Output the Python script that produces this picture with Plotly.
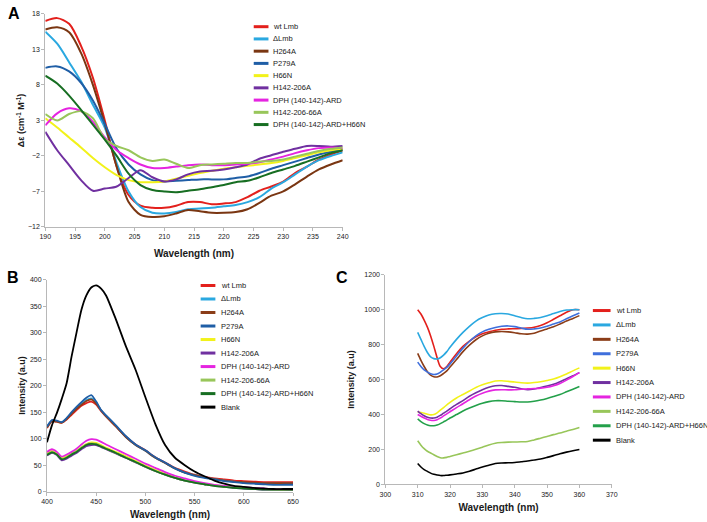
import plotly.graph_objects as go

W, H = 707, 522

names_A = ["wt Lmb", "ΔLmb", "H264A", "P279A", "H66N", "H142-206A",
           "DPH (140-142)-ARD", "H142-206-66A", "DPH (140-142)-ARD+H66N"]
names_BC = names_A + ["Blank"]

colors_A = ["#e3201c", "#2aa8e0", "#7a3612", "#1f5ea6", "#f2f21a", "#7030a0",
            "#e524e0", "#98c65a", "#176e22"]
colors_B = ["#e3201c", "#2aa8e0", "#8b3d18", "#1f5ea6", "#f2f21a", "#7030a0",
            "#e524e0", "#98c65a", "#176e22", "#000000"]
colors_C = ["#e3201c", "#2aa8e0", "#8b3d18", "#3f6fdc", "#f2f21a", "#7030a0",
            "#e524e0", "#98c65a", "#23a04a", "#000000"]

# ---------------- Panel A: CD spectra ----------------
x_A = [190, 192, 194, 196, 198, 200, 202, 204, 206, 208, 210, 212, 214, 216, 218,
       220, 222, 224, 226, 228, 230, 232, 234, 236, 238, 240]
A_wt = [17.0, 17.4, 16.6, 13.5, 9.0, 3.0, -3.5, -7.5, -9.0, -9.3, -9.3, -9.0, -8.5, -8.5, -8.8,
        -8.7, -8.5, -7.8, -6.9, -6.3, -5.6, -4.4, -3.5, -2.5, -1.8, -1.2]
A_dLmb = [15.5, 13.8, 11.2, 8.5, 5.2, 2.0, -3.0, -7.0, -9.2, -10.0, -10.1, -9.9, -9.5, -9.4, -9.3,
          -9.1, -8.9, -8.5, -7.8, -6.6, -5.7, -4.6, -3.5, -2.6, -2.0, -1.5]
A_H264A = [15.8, 16.1, 15.4, 12.5, 8.0, 2.5, -3.5, -8.5, -10.3, -10.6, -10.5, -10.1, -9.6, -9.8, -10.0,
           -10.0, -9.9, -9.5, -8.6, -7.6, -7.0, -6.0, -4.9, -3.9, -3.2, -2.6]
A_P279A = [10.4, 10.6, 9.9, 8.3, 5.8, 2.5, -1.0, -3.2, -4.6, -5.4, -5.6, -5.5, -5.4, -5.3, -5.3,
           -5.3, -5.1, -4.9, -4.4, -3.8, -3.3, -2.8, -2.3, -1.8, -1.4, -1.1]
A_H66N = [3.3, 2.0, 0.6, -0.8, -2.3, -3.6, -4.7, -5.4, -5.7, -5.7, -5.6, -5.2, -4.8, -4.4, -4.1,
          -3.8, -3.6, -3.4, -3.2, -3.0, -2.7, -2.3, -1.9, -1.5, -1.2, -1.0]
A_H142 = [1.4, -1.2, -3.3, -5.4, -6.9, -6.6, -6.3, -5.1, -4.0, -5.0, -5.6, -5.3, -4.6, -4.2, -4.1,
          -3.9, -3.6, -3.2, -2.4, -1.9, -1.4, -1.0, -0.6, -0.6, -0.7, -0.6]
A_DPH = [2.3, 4.0, 4.7, 4.3, 2.8, 0.6, -1.2, -2.3, -3.2, -3.7, -3.7, -3.5, -3.3, -3.2, -3.3,
         -3.3, -3.2, -3.1, -2.9, -2.5, -2.1, -1.6, -1.2, -0.9, -0.8, -0.9]
A_H142_66 = [3.9, 3.0, 3.9, 4.3, 3.3, 0.4, -0.6, -1.2, -2.2, -2.7, -2.5, -3.1, -3.7, -3.3, -3.2,
             -3.1, -3.0, -3.0, -2.8, -2.7, -2.5, -2.1, -1.7, -1.3, -1.0, -0.8]
A_DPH_H66N = [9.3, 8.2, 6.5, 4.5, 2.4, 0.3, -2.0, -4.5, -6.1, -6.8, -7.0, -7.1, -6.9, -6.7, -6.4,
              -6.1, -5.7, -5.5, -5.0, -4.4, -3.9, -3.4, -2.8, -2.2, -1.6, -1.2]
series_A = [A_wt, A_dLmb, A_H264A, A_P279A, A_H66N, A_H142, A_DPH, A_H142_66, A_DPH_H66N]
ticks_A_x = [190, 195, 200, 205, 210, 215, 220, 225, 230, 235, 240]
ticks_A_y = [-12, -7, -2, 3, 8, 13, 18]

# ---------------- Panel B: fluorescence 400-650 ----------------
x_B = [400, 405, 410, 415, 420, 425, 430, 435, 440, 445, 450, 455, 460, 470, 480, 490,
       500, 510, 520, 530, 540, 550, 560, 570, 580, 590, 600, 610, 620, 630, 640, 650]
B_wt = [120, 133, 132, 130, 136, 145, 154, 162, 167, 170, 164, 152, 142, 123, 104, 89,
        78, 65, 55, 45, 38, 32, 28, 25, 23, 21, 20, 19, 18, 18, 18, 18]
B_dLmb = [122, 134, 133, 131, 138, 148, 158, 166, 173, 176, 168, 153, 143, 124, 104, 88,
          77, 64, 54, 44, 36, 31, 27, 24, 21, 19, 17, 16, 15, 15, 15, 15]
B_H264A = [121, 133, 132, 130, 137, 147, 156, 164, 171, 174, 166, 153, 142, 123, 103, 88,
           77, 64, 54, 44, 36, 31, 27, 24, 21, 19, 18, 17, 16, 16, 16, 16]
B_P279A = [123, 135, 134, 131, 139, 150, 160, 169, 177, 182, 170, 154, 144, 125, 105, 89,
           78, 65, 55, 44, 36, 30, 26, 23, 20, 18, 16, 15, 14, 13, 13, 13]
B_H66N = [72, 77, 72, 64, 67, 72, 77, 84, 90, 93, 92, 88, 83, 75, 67, 58,
          49, 41, 34, 27, 22, 18, 15, 12, 10, 8, 7, 6, 5, 5, 4, 4]
B_H142 = [68, 73, 69, 59, 62, 68, 73, 80, 86, 88, 88, 84, 80, 72, 64, 55,
          47, 39, 32, 26, 21, 17, 14, 11, 9, 7, 6, 5, 4, 4, 4, 3]
B_DPH = [75, 80, 75, 66, 70, 75, 81, 89, 96, 99, 98, 94, 89, 80, 71, 62,
         53, 45, 37, 30, 25, 20, 16, 13, 11, 9, 8, 7, 6, 5, 5, 5]
B_H142_66 = [70, 75, 70, 62, 65, 71, 76, 83, 89, 91, 90, 86, 81, 73, 65, 56,
             47, 39, 32, 26, 21, 17, 14, 11, 9, 8, 7, 6, 5, 4, 4, 4]
B_DPH_H66N = [69, 74, 70, 61, 64, 70, 75, 82, 88, 90, 89, 85, 81, 73, 64, 56,
              47, 39, 32, 26, 21, 17, 14, 11, 9, 7, 6, 5, 4, 4, 4, 4]
B_blank = [93, 125, 148, 175, 205, 255, 300, 343, 370, 385, 389, 383, 370, 325, 275, 230,
           178, 128, 88, 64, 50, 38, 29, 21, 15, 11, 9, 7, 6, 5, 5, 5]
series_B = [B_wt, B_dLmb, B_H264A, B_P279A, B_H66N, B_H142, B_DPH, B_H142_66, B_DPH_H66N, B_blank]

# ---------------- Panel C: fluorescence 310-360 ----------------
x_C = [310, 311, 312, 313, 314, 315, 316, 317, 318, 319, 320, 322, 324, 326, 328, 330,
       332, 334, 336, 338, 340, 342, 344, 346, 348, 350, 352, 354, 356, 358, 360]
C_wt = [1000, 975, 940, 900, 850, 790, 725, 675, 662, 675, 700, 748, 790, 820, 845, 862,
        873, 882, 888, 890, 891, 892, 895, 900, 910, 925, 945, 965, 985, 1000, 1000]
C_dLmb = [870, 830, 790, 755, 730, 720, 718, 725, 740, 760, 785, 830, 870, 905, 935, 955,
          970, 977, 978, 975, 965, 955, 948, 950, 955, 965, 978, 990, 998, 1000, 1000]
C_H264A = [750, 710, 675, 645, 625, 616, 615, 622, 635, 650, 672, 715, 760, 797, 828, 850,
           865, 873, 875, 873, 868, 862, 860, 865, 878, 890, 902, 918, 935, 950, 966]
C_P279A = [700, 675, 655, 643, 633, 629, 632, 642, 655, 670, 690, 735, 780, 818, 850, 873,
           888, 898, 905, 907, 903, 895, 888, 890, 895, 905, 918, 930, 948, 965, 981]
C_H66N = [415, 412, 408, 402, 398, 400, 410, 425, 440, 455, 470, 495, 515, 535, 555, 570,
          582, 592, 593, 590, 586, 582, 580, 583, 588, 595, 603, 616, 632, 650, 667]
C_H142 = [420, 405, 393, 384, 380, 380, 385, 395, 408, 420, 433, 458, 480, 505, 525, 542,
          556, 565, 566, 561, 556, 548, 542, 546, 555, 563, 573, 588, 605, 622, 640]
C_DPH = [400, 390, 380, 372, 367, 366, 370, 380, 392, 404, 416, 440, 462, 485, 506, 522,
         534, 541, 542, 541, 542, 545, 547, 549, 551, 556, 565, 578, 597, 618, 640]
C_H142_66 = [250, 225, 205, 190, 180, 170, 160, 153, 152, 155, 160, 170, 180, 190, 201, 213,
             226, 236, 240, 242, 243, 244, 246, 255, 265, 275, 285, 294, 305, 315, 326]
C_DPH_H66N = [375, 360, 348, 340, 336, 336, 340, 348, 358, 368, 380, 400, 420, 437, 452, 465,
              474, 479, 479, 476, 474, 472, 472, 476, 483, 492, 503, 515, 530, 545, 560]
C_blank = [120, 100, 85, 75, 65, 58, 54, 51, 51, 53, 55, 60, 66, 76, 88, 100,
           110, 120, 123, 124, 126, 130, 134, 140, 146, 155, 165, 176, 185, 193, 200]
series_C = [C_wt, C_dLmb, C_H264A, C_P279A, C_H66N, C_H142, C_DPH, C_H142_66, C_DPH_H66N, C_blank]

FONT = "Liberation Sans, Arial, sans-serif"
TXT = "#1a1a1a"
AX = "#b8b8b8"

fig = go.Figure()

for name, col, ys in zip(names_A, colors_A, series_A):
    fig.add_trace(go.Scatter(x=x_A, y=ys, name=name, mode="lines", xaxis="x", yaxis="y",
                             line=dict(color=col, width=2, shape="spline", smoothing=0.8),
                             showlegend=False))
for name, col, ys in zip(names_BC, colors_B, series_B):
    fig.add_trace(go.Scatter(x=x_B, y=ys, name=name, mode="lines", xaxis="x2", yaxis="y2",
                             line=dict(color=col, width=1.8, shape="spline", smoothing=0.6),
                             showlegend=False))
for name, col, ys in zip(names_BC, colors_C, series_C):
    fig.add_trace(go.Scatter(x=x_C, y=ys, name=name, mode="lines", xaxis="x3", yaxis="y3",
                             line=dict(color=col, width=1.6, shape="spline", smoothing=0.8),
                             showlegend=False))

def axis_style(**kw):
    d = dict(showgrid=False, zeroline=False, showline=True, linecolor=AX, linewidth=1,
             ticks="outside", ticklen=3, tickcolor=AX, tickwidth=1,
             tickfont=dict(family=FONT, size=7, color=TXT), fixedrange=True)
    d.update(kw)
    return d

title_font = dict(family=FONT, size=10, color=TXT)
ytitle_font = dict(family=FONT, size=9, color=TXT)

fig.update_layout(
    width=W, height=H, margin=dict(l=0, r=0, t=0, b=0),
    paper_bgcolor="white", plot_bgcolor="white",
    xaxis=axis_style(domain=[40/W, 342.5/W], range=[190, 240], tickvals=ticks_A_x, anchor="y",
                     title=dict(text="<b>Wavelength (nm)</b>", font=title_font, standoff=10)),
    yaxis=axis_style(domain=[1-226/H, 1-10/H], range=[-12, 18], tickvals=ticks_A_y, anchor="x",
                     title=dict(text="<b>Δε (cm<sup>-1</sup> M<sup>-1</sup>)</b>",
                                font=ytitle_font, standoff=1)),
    xaxis2=axis_style(domain=[41.7/W, 292/W], range=[400, 650], dtick=50, tick0=400, anchor="y2",
                      title=dict(text="<b>Wavelength (nm)</b>", font=title_font, standoff=6)),
    yaxis2=axis_style(domain=[1-494.3/H, 1-279.3/H], range=[0, 400], dtick=50, tick0=0, anchor="x2",
                      title=dict(text="<b>Intensity (a.u)</b>", font=ytitle_font, standoff=2)),
    xaxis3=axis_style(domain=[385.9/W, 616.2/W], range=[300, 370], dtick=10, tick0=300, anchor="y3",
                      title=dict(text="<b>Wavelength (nm)</b>", font=title_font, standoff=7)),
    yaxis3=axis_style(domain=[1-487/H, 1-274.4/H], range=[0, 1200], dtick=200, tick0=0, anchor="x3",
                      title=dict(text="<b>Intensity (a.u)</b>", font=ytitle_font, standoff=8)),
)

# Manual legends (compact rows like the original)
def add_legend(names, colors, x0, x1, xt, y0, dy, fsize):
    for i, (n, c) in enumerate(zip(names, colors)):
        yy = 1 - (y0 + i * dy) / H
        fig.add_shape(type="line", xref="paper", yref="paper", x0=x0/W, x1=x1/W, y0=yy, y1=yy,
                      line=dict(color=c, width=3))
        fig.add_annotation(text=n, xref="paper", yref="paper", x=xt/W, y=yy,
                           xanchor="left", yanchor="middle", showarrow=False,
                           font=dict(family=FONT, size=fsize, color=TXT))

add_legend(names_A, colors_A, 252, 267, 270, 23, 12.4, 7.5)
add_legend(names_BC, colors_B, 198, 213, 217, 285.3, 13.7, 7.5)
add_legend(names_BC, colors_C, 597, 615, 618, 310.7, 14.6, 7.5)

for lab, x, y in [("A", 8, 10), ("B", 7, 277), ("C", 342, 277)]:
    fig.add_annotation(text=f"<b>{lab}</b>", xref="paper", yref="paper", x=x/W, y=1-y/H,
                       xanchor="center", yanchor="middle", showarrow=False,
                       font=dict(family=FONT, size=16, color="#000"))

fig.write_html("out.html", config={"displayModeBar": False},
               post_script="document.body.style.margin='0';document.body.style.overflow='hidden';")
